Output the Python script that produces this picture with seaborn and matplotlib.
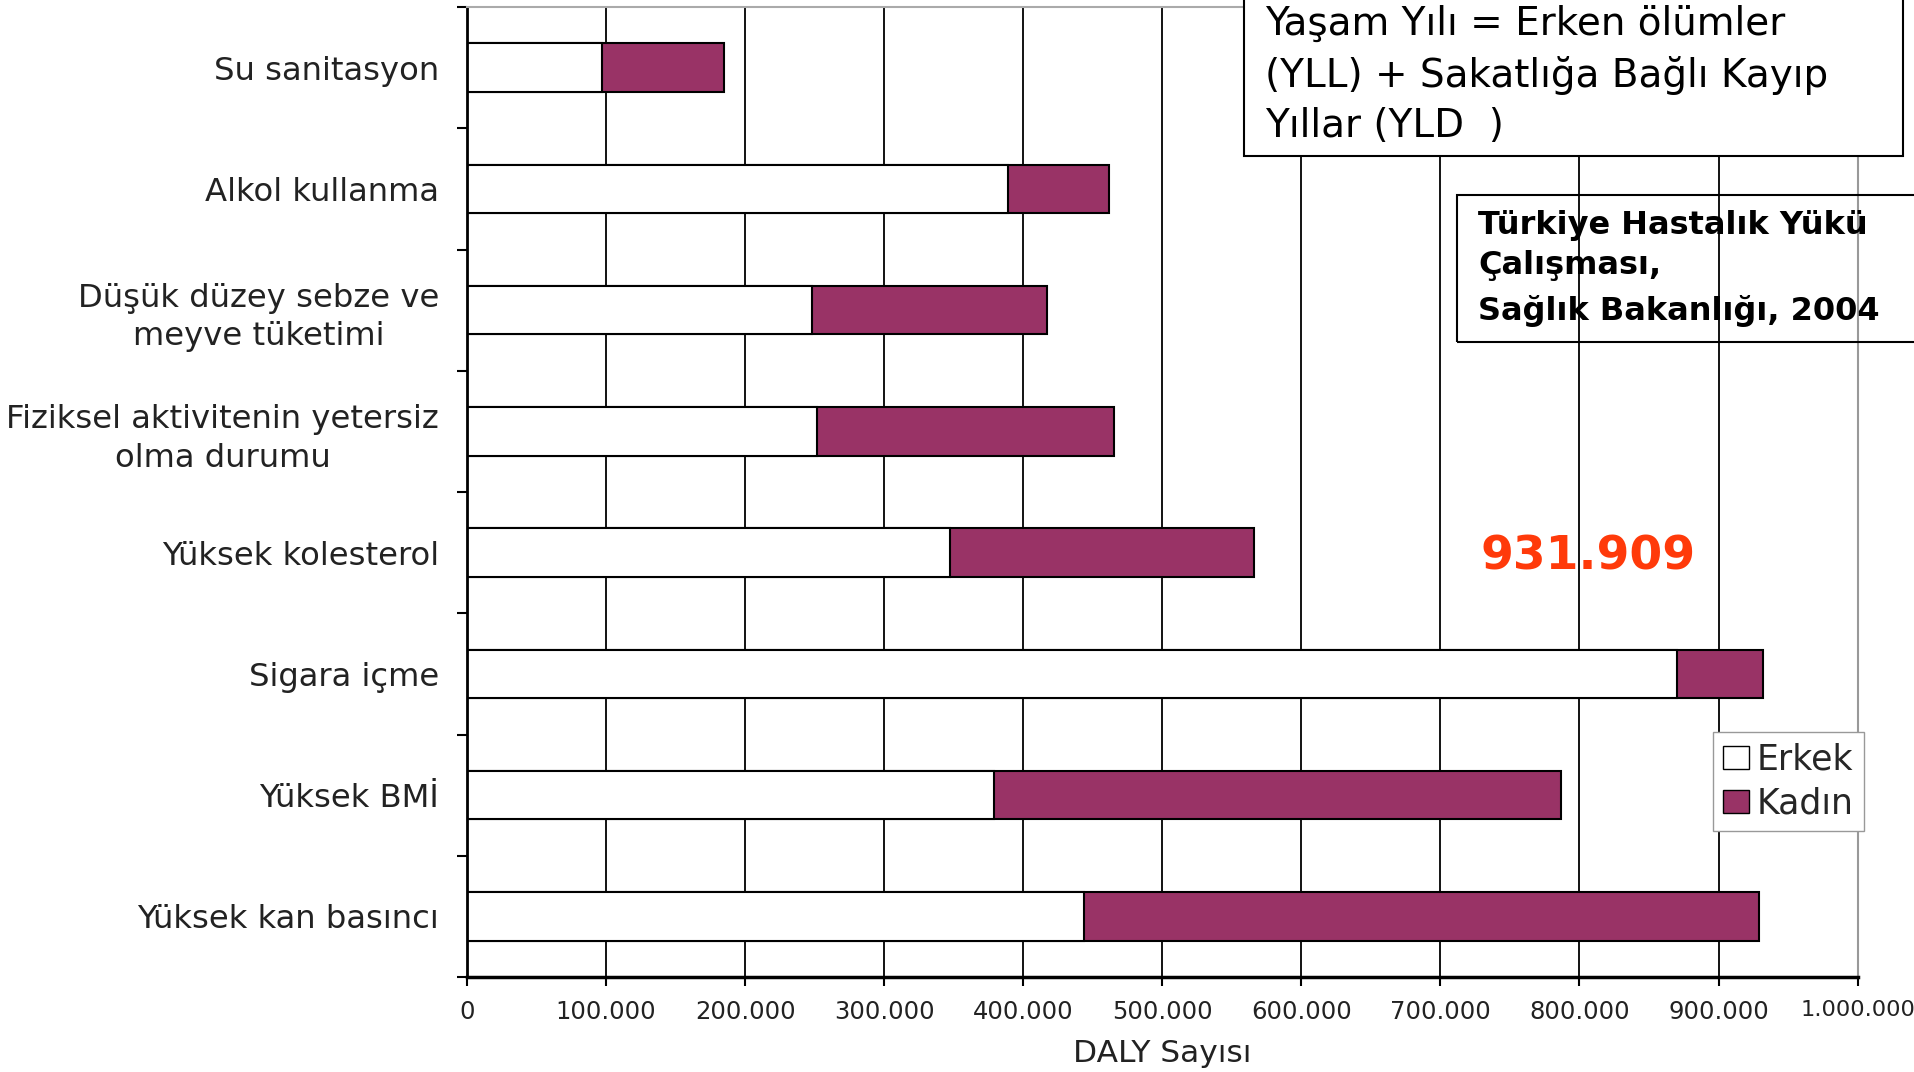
import matplotlib
matplotlib.use('Agg')
import matplotlib.pyplot as plt
from matplotlib.patches import Patch, Rectangle
import numpy as np
import pandas as pd
import seaborn as sns

# DALY by risk factor, Erkek (men) + Kadın (women)
categories = ['Su sanitasyon', 'Alkol kullanma', 'Düşük düzey sebze ve\nmeyve tüketimi',
              'Fiziksel aktivitenin yetersiz\nolma durumu', 'Yüksek kolesterol', 'Sigara içme',
              'Yüksek BMİ', 'Yüksek kan basıncı']
erkek = [97000, 389000, 248000, 252000, 347000, 870000, 379000, 444000]
kadin = [88000, 73000, 169000, 213000, 219000, 61909, 408000, 485000]
xticks = np.arange(0, 1000001, 100000)
xtick_labels = [f'{v:,.0f}'.replace(',', '.') for v in xticks]

df = pd.DataFrame({'risk': categories, 'Erkek': erkek, 'Kadın': kadin})
df['toplam'] = df['Erkek'] + df['Kadın']

sns.set_style('white')
plt.rcParams['font.family'] = ['DejaVu Sans']

W, H = 1915, 1072
fig = plt.figure(figsize=(W / 100, H / 100), dpi=100)
ax = fig.add_axes([467 / W, 1 - 977 / H, (1857.6 - 467) / W, (977 - 7) / H])

plum = '#993366'
sns.barplot(data=df, x='toplam', y='risk', orient='h', color=plum, saturation=1,
            width=0.4, edgecolor='black', linewidth=1.5, ax=ax)
sns.barplot(data=df, x='Erkek', y='risk', orient='h', color='white', saturation=1,
            width=0.4, edgecolor='black', linewidth=1.5, ax=ax)

ax.set_xlim(0, 1000000)
ax.set_ylim(len(categories) - 0.5, -0.5)
ax.set_xticks(xticks)
ax.set_xticklabels(xtick_labels)
ax.set_yticks(range(len(categories)))
ax.set_yticklabels(categories)
for t in ax.get_yticklabels():
    t.set_multialignment('center')
    t.set_linespacing(1.32)
ax.set_yticks(np.arange(-0.5, len(categories), 1), minor=True)

ax.tick_params(axis='y', which='major', left=False, length=0, pad=20, labelsize=23.2, labelcolor='#222222')
ax.tick_params(axis='y', which='minor', left=True, length=7, width=1.5, color='black', direction='out')
ax.tick_params(axis='x', which='major', bottom=True, length=6.5, width=1.5, color='black',
               direction='out', pad=10, labelsize=17.5, labelcolor='#222222')
# last label runs to the figure edge, keep it inside
ax.get_xticklabels()[-1].set_fontsize(16.2)
ax.set_xlabel('DALY Sayısı', fontsize=22.5, color='#222222', labelpad=11)
ax.set_ylabel('')

ax.set_axisbelow(True)
ax.xaxis.grid(True, color='black', linewidth=1.3)
ax.yaxis.grid(False)
ax.get_xgridlines()[-1].set_color('#999999')

ax.spines['left'].set_color('black')
ax.spines['left'].set_linewidth(2)
ax.spines['bottom'].set_color('black')
ax.spines['bottom'].set_linewidth(2.5)
ax.spines['top'].set_color('#aaaaaa')
ax.spines['top'].set_linewidth(1.5)
ax.spines['right'].set_color('#999999')
ax.spines['right'].set_linewidth(1.5)

# legend
handles = [Patch(facecolor='white', edgecolor='black'), Patch(facecolor=plum, edgecolor='black')]
fig.legend(handles, ['Erkek', 'Kadın'], loc='upper left', bbox_to_anchor=(1713 / W, 1 - 732 / H),
           bbox_transform=fig.transFigure, fontsize=25, frameon=True, fancybox=False,
           edgecolor='#999999', framealpha=1, handlelength=0.75, handleheight=0.65,
           handletextpad=0.2, labelspacing=0.3, borderpad=0.3, borderaxespad=0)

# definition box
fig.patches.append(Rectangle((1244.5 / W, 1 - 156.3 / H), (1903 - 1244.5) / W, 0.2,
                             transform=fig.transFigure, facecolor='white', edgecolor='black',
                             linewidth=1.5, zorder=5))
for line, yb in zip(['Yaşam Yılı = Erken ölümler', '(YLL) + Sakatlığa Bağlı Kayıp', 'Yıllar (YLD  )'],
                    [35, 87, 137]):
    fig.text(1265 / W, 1 - yb / H, line, fontsize=28, ha='left', va='baseline', color='black', zorder=6)

# source box
fig.patches.append(Rectangle((1457 / W, 1 - 342 / H), 0.3, 147 / H, transform=fig.transFigure,
                             facecolor='none', edgecolor='black', linewidth=1.5, zorder=5))
for line, yb in zip(['Türkiye Hastalık Yükü', 'Çalışması,', 'Sağlık Bakanlığı, 2004'],
                    [234, 274, 320]):
    fig.text(1478 / W, 1 - yb / H, line, fontsize=23, fontweight='bold', ha='left',
             va='baseline', color='black', zorder=6)

# total of Sigara içme
fig.text(1588 / W, 1 - 570 / H, '931.909', fontsize=34, fontweight='bold', ha='center',
         va='baseline', color='#ff3a0a', zorder=6)

fig.savefig('out.png', dpi=100, facecolor='white')
